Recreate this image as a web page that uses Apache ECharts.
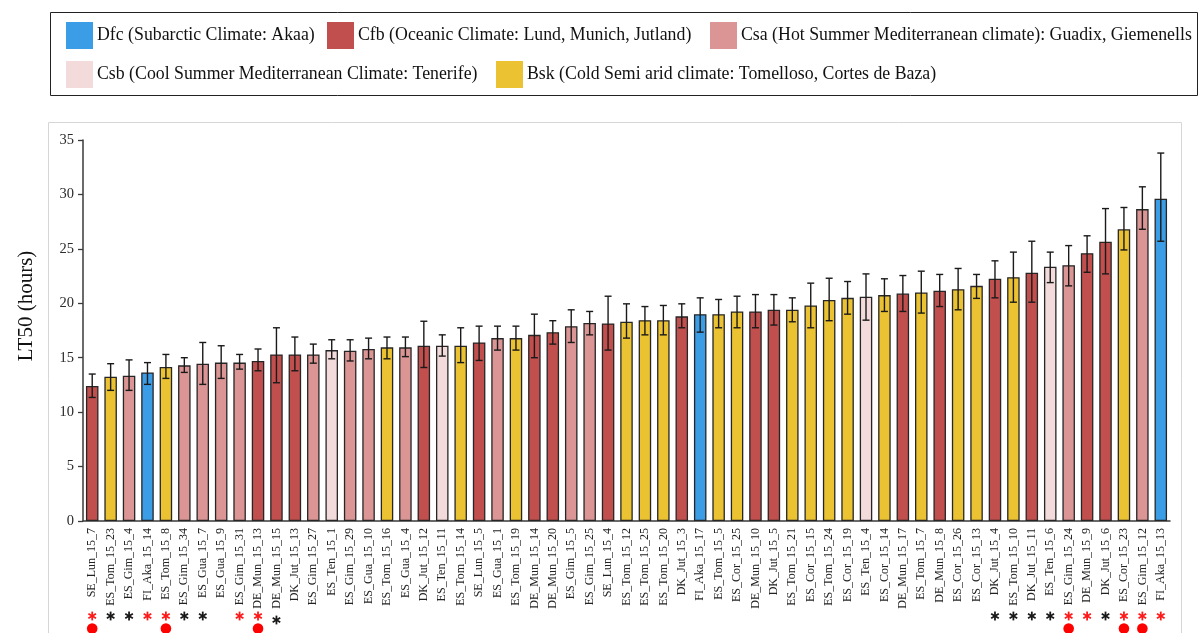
<!DOCTYPE html>
<html>
<head>
<meta charset="utf-8">
<script src="https://cdn.jsdelivr.net/npm/echarts@6/dist/echarts.min.js"></script>
<style>
  html, body { margin: 0; padding: 0; background: #fff; }
  #chart { width: 1204px; height: 633px; }
</style>
</head>
<body>
<div id="chart"></div>
<script>
// LT50 per accession, sorted ascending, coloured by climate class
const categories = [
  'SE_Lun_15_7','ES_Tom_15_23','ES_Gim_15_4','FI_Aka_15_14','ES_Tom_15_8','ES_Gim_15_34','ES_Gua_15_7','ES_Gua_15_9',
  'ES_Gim_15_31','DE_Mun_15_13','DE_Mun_15_15','DK_Jut_15_13','ES_Gim_15_27','ES_Ten_15_1','ES_Gim_15_29','ES_Gua_15_10',
  'ES_Tom_15_16','ES_Gua_15_4','DK_Jut_15_12','ES_Ten_15_11','ES_Tom_15_14','SE_Lun_15_5','ES_Gua_15_1','ES_Tom_15_19',
  'DE_Mun_15_14','DE_Mun_15_20','ES_Gim_15_5','ES_Gim_15_25','SE_Lun_15_4','ES_Tom_15_12','ES_Tom_15_25','ES_Tom_15_20',
  'DK_Jut_15_3','FI_Aka_15_17','ES_Tom_15_5','ES_Cor_15_25','DE_Mun_15_10','DK_Jut_15_5','ES_Tom_15_21','ES_Cor_15_15',
  'ES_Tom_15_24','ES_Cor_15_19','ES_Ten_15_4','ES_Cor_15_14','DE_Mun_15_17','ES_Tom_15_7','DE_Mun_15_8','ES_Cor_15_26',
  'ES_Cor_15_13','DK_Jut_15_4','ES_Tom_15_10','DK_Jut_15_11','ES_Ten_15_6','ES_Gim_15_24','DE_Mun_15_9','DK_Jut_15_6',
  'ES_Cor_15_23','ES_Gim_15_12','FI_Aka_15_13'
];

const climate = [
  'Cfb','Bsk','Csa','Dfc','Bsk','Csa','Csa','Csa','Csa','Cfb','Cfb','Cfb','Csa','Csb','Csa','Csa',
  'Bsk','Csa','Cfb','Csb','Bsk','Cfb','Csa','Bsk','Cfb','Cfb','Csa','Csa','Cfb','Bsk','Bsk','Bsk',
  'Cfb','Dfc','Bsk','Bsk','Cfb','Cfb','Bsk','Bsk','Bsk','Bsk','Csb','Bsk','Cfb','Bsk','Cfb','Bsk',
  'Bsk','Cfb','Bsk','Cfb','Csb','Csa','Cfb','Cfb','Bsk','Csa','Dfc'
];

const lt50 = [
  12.4,13.25,13.35,13.65,14.15,14.3,14.45,14.55,14.55,14.7,15.3,15.3,15.3,15.7,15.65,15.8,
  15.95,15.95,16.1,16.1,16.1,16.4,16.8,16.8,17.1,17.35,17.9,18.2,18.15,18.3,18.45,18.45,
  18.8,19.0,19.0,19.25,19.25,19.4,19.4,19.8,20.3,20.5,20.6,20.75,20.9,21.0,21.15,21.3,
  21.6,22.25,22.4,22.8,23.35,23.5,24.6,25.65,26.8,28.65,29.6
];

const errHigh = [
  13.5,14.45,14.8,14.55,15.3,15.0,16.4,16.1,15.3,15.8,17.75,16.9,16.25,16.65,16.65,16.8,
  16.9,16.9,18.35,17.1,17.75,17.9,17.9,17.9,19.0,18.4,19.4,19.25,20.65,19.95,19.7,19.8,
  19.95,20.5,20.35,20.65,20.8,20.8,20.5,21.85,22.3,22.0,22.7,22.25,22.55,22.95,22.65,23.2,
  22.65,23.9,24.7,25.7,24.7,25.3,26.2,28.7,28.8,30.7,33.8
];

const errLow = [
  11.35,12.0,12.0,12.55,13.1,13.65,12.55,13.1,13.95,13.8,12.7,13.8,14.5,14.9,14.7,14.9,
  14.9,15.1,14.1,15.15,14.55,14.75,15.7,15.7,15.0,16.25,16.4,17.1,15.7,16.8,17.1,17.1,
  17.75,17.35,17.75,17.75,17.75,18.0,18.3,17.75,18.4,19.0,18.45,19.25,19.25,19.1,19.7,19.4,
  20.45,20.5,20.1,20.1,21.9,21.6,22.85,22.7,24.9,26.8,25.7
];

// significance marks under the axis: 'r' red asterisk, 'k' black asterisk,
// 'kl' black asterisk set slightly lower
const stars = [
  'r','k','k','r','r','k','k','','r','r','kl',
  '','','','','','','','','','','','','','','','','','','','','','','','','','','','','','','','','','','','','','',
  'k','k','k','k','r','r','k','r','r','r'
];
// red dot marks
const dots = [
  1,0,0,0,1,0,0,0,0,1,0,
  0,0,0,0,0,0,0,0,0,0,0,0,0,0,0,0,0,0,0,0,0,0,0,0,0,0,0,0,0,0,0,0,0,0,0,0,0,0,
  0,0,0,0,1,0,0,1,1,0
];

const yTicks = [0, 5, 10, 15, 20, 25, 30, 35];

const climateKeys = ['Dfc','Cfb','Csa','Csb','Bsk'];
const climateNames = {
  Dfc: 'Dfc (Subarctic Climate: Akaa)',
  Cfb: 'Cfb (Oceanic Climate: Lund, Munich, Jutland)',
  Csa: 'Csa (Hot Summer Mediterranean climate): Guadix, Giemenells',
  Csb: 'Csb (Cool Summer Mediterranean Climate: Tenerife)',
  Bsk: 'Bsk (Cold Semi arid climate: Tomelloso, Cortes de Baza)'
};
const climateColors = {
  Dfc: '#3b9de6',
  Cfb: '#c14f4e',
  Csa: '#db9595',
  Csb: '#f3dbdb',
  Bsk: '#eac232'
};

const serif = '"Liberation Serif", "DejaVu Serif", serif';

const chart = echarts.init(document.getElementById('chart'), null, { renderer: 'canvas' });

const barSeries = climateKeys.map(function (key) {
  return {
    name: climateNames[key],
    type: 'bar',
    barWidth: '68%',
    barGap: '-100%',
    color: climateColors[key],
    itemStyle: { color: climateColors[key], borderColor: '#262626', borderWidth: 1.3 },
    emphasis: { disabled: true },
    data: lt50.map(function (v, i) { return climate[i] === key ? v : '-'; }),
    z: 2
  };
});

const errorSeries = {
  type: 'custom',
  name: 'error',
  z: 5,
  silent: true,
  data: lt50.map(function (v, i) { return [i, errLow[i], errHigh[i]]; }),
  renderItem: function (params, api) {
    const i = api.value(0);
    const lo = api.coord([i, api.value(1)]);
    const hi = api.coord([i, api.value(2)]);
    const cap = 3.5;
    const style = { stroke: '#1a1a1a', lineWidth: 1.4 };
    return {
      type: 'group',
      children: [
        { type: 'line', shape: { x1: lo[0], y1: lo[1], x2: hi[0], y2: hi[1] }, style: style },
        { type: 'line', shape: { x1: hi[0] - cap, y1: hi[1], x2: hi[0] + cap, y2: hi[1] }, style: style },
        { type: 'line', shape: { x1: lo[0] - cap, y1: lo[1], x2: lo[0] + cap, y2: lo[1] }, style: style }
      ]
    };
  }
};

const markSeries = {
  type: 'custom',
  name: 'marks',
  z: 5,
  silent: true,
  clip: false,
  data: categories.map(function (c, i) { return [i, 0]; }),
  renderItem: function (params, api) {
    const i = api.value(0);
    const base = api.coord([i, 0]);
    const children = [];
    const s = stars[i];
    if (s) {
      const cx = base[0];
      const cy = base[1] + (s === 'kl' ? 99 : 95);
      const r = 4.4;
      const col = s === 'r' ? '#ff1a1a' : '#1a1a1a';
      [90, 30, 150].forEach(function (deg) {
        const a = deg * Math.PI / 180;
        children.push({
          type: 'line',
          shape: { x1: cx - r * Math.cos(a), y1: cy - r * Math.sin(a), x2: cx + r * Math.cos(a), y2: cy + r * Math.sin(a) },
          style: { stroke: col, lineWidth: 1.8 }
        });
      });
    }
    if (dots[i]) {
      children.push({
        type: 'circle',
        shape: { cx: base[0], cy: base[1] + 107.5, r: 5.3 },
        style: { fill: '#ff0000' }
      });
    }
    return { type: 'group', children: children };
  }
};

function legendAt(key, left, top) {
  return {
    data: [climateNames[key]],
    left: left,
    top: top,
    orient: 'horizontal',
    itemWidth: 27,
    itemHeight: 27,
    icon: 'rect',
    selectedMode: false,
    padding: 0,
    itemStyle: { borderWidth: 0 },
    textStyle: { fontFamily: serif, fontSize: 17.8, color: '#111', padding: [0, 0, 0, -1] }
  };
}

const option = {
  animation: false,
  backgroundColor: '#ffffff',
  legend: [
    legendAt('Dfc', 66, 22),
    legendAt('Cfb', 327, 22),
    legendAt('Csa', 710, 22),
    legendAt('Csb', 66, 61),
    legendAt('Bsk', 496, 61)
  ],
  graphic: [
    {
      type: 'rect',
      shape: { x: 50.5, y: 12.5, width: 1147, height: 83 },
      style: { fill: 'none', stroke: '#222', lineWidth: 1 },
      z: -1
    },
    {
      type: 'rect',
      shape: { x: 48.5, y: 122.5, width: 1133, height: 530 },
      style: { fill: 'none', stroke: '#d6d6d6', lineWidth: 1 },
      z: -1
    },
    {
      type: 'text',
      x: 26,
      y: 306,
      rotation: Math.PI / 2,
      style: {
        text: 'LT50 (hours)',
        fontFamily: serif,
        fontSize: 21,
        fill: '#111',
        align: 'center',
        verticalAlign: 'middle'
      }
    }
  ],
  grid: { left: 83, right: 34, top: 140, bottom: 112, containLabel: false },
  xAxis: {
    type: 'category',
    data: categories,
    axisLine: { lineStyle: { color: '#3a3a3a', width: 1.5 } },
    axisTick: { show: false },
    axisLabel: {
      rotate: 90,
      interval: 0,
      margin: 7,
      fontFamily: serif,
      fontSize: 12,
      color: '#222'
    },
    splitLine: { show: false }
  },
  yAxis: {
    type: 'value',
    min: yTicks[0],
    max: yTicks[yTicks.length - 1],
    interval: yTicks[1] - yTicks[0],
    axisLine: { show: true, lineStyle: { color: '#3a3a3a', width: 1.5 } },
    axisTick: { show: true, length: 5, lineStyle: { color: '#3a3a3a', width: 1.3 } },
    axisLabel: { fontFamily: serif, fontSize: 14.5, color: '#2a2a2a', margin: 9 },
    splitLine: { show: false }
  },
  series: barSeries.concat([errorSeries, markSeries])
};

chart.setOption(option);
</script>
</body>
</html>
